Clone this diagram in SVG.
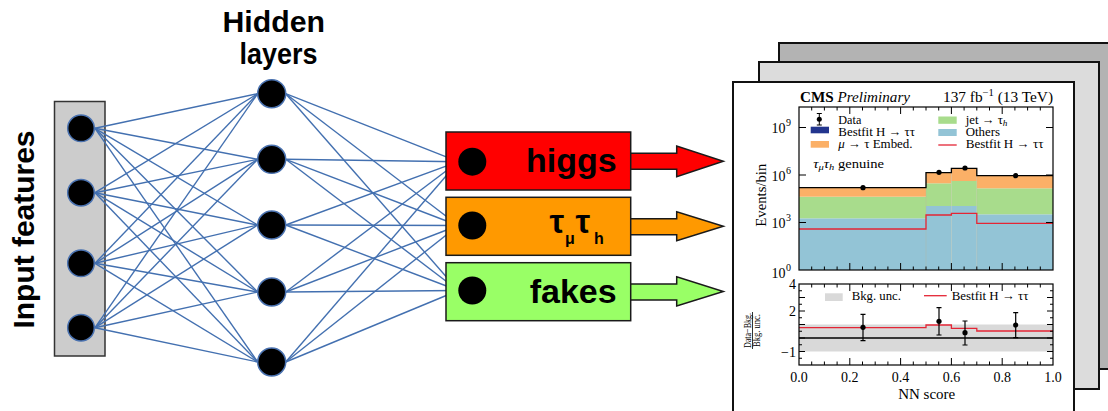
<svg xmlns="http://www.w3.org/2000/svg" width="1108" height="411" viewBox="0 0 1108 411">
<style>
.lbl{font-family:"Liberation Sans",Arial,sans-serif;font-weight:bold;fill:#000}
.pt{font-family:"Liberation Serif","DejaVu Serif",serif;fill:#000}
.node{fill:#000;stroke:#4a72b0;stroke-width:1.5}
.onode{fill:#000}
.conn line{stroke:#4370b0;stroke-width:1.4}
.box{stroke:#1a1a1a;stroke-width:1.5}
.panel{stroke:#111;stroke-width:2}
.frame{fill:none;stroke:#000;stroke-width:1.2}
.tick{fill:none;stroke:#000;stroke-width:1}
</style>
<rect width="1108" height="411" fill="#fff"/>

<!-- Left labels -->
<text class="lbl" font-size="29" transform="translate(34,328.5) rotate(-90)" textLength="198" lengthAdjust="spacingAndGlyphs">Input features</text>
<text class="lbl" font-size="29" x="222.5" y="32.3" textLength="102.5" lengthAdjust="spacingAndGlyphs">Hidden</text>
<text class="lbl" font-size="29" x="239.5" y="64.3" textLength="78" lengthAdjust="spacingAndGlyphs">layers</text>

<!-- Input layer -->
<g id="input-layer">
<rect x="54.5" y="101.5" width="50.5" height="254.5" fill="#cccccc" stroke="#333" stroke-width="1.5"/>
<circle class="node" cx="81" cy="128.3" r="13.3"/>
<circle class="node" cx="81" cy="192.7" r="13.3"/>
<circle class="node" cx="81" cy="263.3" r="13.3"/>
<circle class="node" cx="81" cy="327.7" r="13.3"/>
</g>

<!-- Connectors -->
<g id="connectors" class="conn">
<line x1="95" y1="128.3" x2="257.7" y2="93.7"/><line x1="95" y1="128.3" x2="257.7" y2="159.3"/><line x1="95" y1="128.3" x2="257.7" y2="225"/><line x1="95" y1="128.3" x2="257.7" y2="292"/><line x1="95" y1="128.3" x2="257.7" y2="362"/>
<line x1="95" y1="192.7" x2="257.7" y2="93.7"/><line x1="95" y1="192.7" x2="257.7" y2="159.3"/><line x1="95" y1="192.7" x2="257.7" y2="225"/><line x1="95" y1="192.7" x2="257.7" y2="292"/><line x1="95" y1="192.7" x2="257.7" y2="362"/>
<line x1="95" y1="263.3" x2="257.7" y2="93.7"/><line x1="95" y1="263.3" x2="257.7" y2="159.3"/><line x1="95" y1="263.3" x2="257.7" y2="225"/><line x1="95" y1="263.3" x2="257.7" y2="292"/><line x1="95" y1="263.3" x2="257.7" y2="362"/>
<line x1="95" y1="327.7" x2="257.7" y2="93.7"/><line x1="95" y1="327.7" x2="257.7" y2="159.3"/><line x1="95" y1="327.7" x2="257.7" y2="225"/><line x1="95" y1="327.7" x2="257.7" y2="292"/><line x1="95" y1="327.7" x2="257.7" y2="362"/>
<line x1="285.7" y1="93.7" x2="458.3" y2="161.7"/><line x1="285.7" y1="93.7" x2="458.3" y2="225.5"/><line x1="285.7" y1="93.7" x2="458.3" y2="290.5"/>
<line x1="285.7" y1="159.3" x2="458.3" y2="161.7"/><line x1="285.7" y1="159.3" x2="458.3" y2="225.5"/><line x1="285.7" y1="159.3" x2="458.3" y2="290.5"/>
<line x1="285.7" y1="225" x2="458.3" y2="161.7"/><line x1="285.7" y1="225" x2="458.3" y2="225.5"/><line x1="285.7" y1="225" x2="458.3" y2="290.5"/>
<line x1="285.7" y1="292" x2="458.3" y2="161.7"/><line x1="285.7" y1="292" x2="458.3" y2="225.5"/><line x1="285.7" y1="292" x2="458.3" y2="290.5"/>
<line x1="285.7" y1="362" x2="458.3" y2="161.7"/><line x1="285.7" y1="362" x2="458.3" y2="225.5"/><line x1="285.7" y1="362" x2="458.3" y2="290.5"/>
</g>

<!-- Hidden layer -->
<g id="hidden-layer">
<circle class="node" cx="271.7" cy="93.7" r="14"/>
<circle class="node" cx="271.7" cy="159.3" r="14"/>
<circle class="node" cx="271.7" cy="225" r="14"/>
<circle class="node" cx="271.7" cy="292" r="14"/>
<circle class="node" cx="271.7" cy="362" r="14"/>
</g>

<!-- Outputs -->
<g id="out-higgs">
<polygon class="box" fill="#ff0000" points="626,153.3 676.7,153.3 676.7,146 723.3,161.3 676.7,176.6 676.7,169.3 626,169.3"/>
<rect class="box" fill="#ff0000" x="446" y="132" width="184.7" height="58"/>
<circle class="onode" cx="472.3" cy="161.7" r="14"/>
<text class="lbl" font-size="34" x="616.7" y="171.7" text-anchor="end">higgs</text>
</g>
<g id="out-tautau">
<polygon class="box" fill="#ff9900" points="626,218.7 676.7,218.7 676.7,211.7 723.3,226.3 676.7,240.7 676.7,234.7 626,234.7"/>
<rect class="box" fill="#ff9900" x="446" y="197.3" width="184.7" height="58"/>
<circle class="onode" cx="472.3" cy="225.5" r="14"/>
<text class="lbl"><tspan x="549.5" y="232.5" font-size="33">τ</tspan><tspan x="565" y="243.5" font-size="16">μ</tspan><tspan x="575.5" y="232.5" font-size="33">τ</tspan><tspan x="594" y="243.5" font-size="16">h</tspan></text>
</g>
<g id="out-fakes">
<polygon class="box" fill="#99ff66" points="626,284 676.7,284 676.7,276.7 723.3,291.5 676.7,306 676.7,300 626,300"/>
<rect class="box" fill="#99ff66" x="446" y="262.7" width="184.7" height="58"/>
<circle class="onode" cx="472.3" cy="290.5" r="14"/>
<text class="lbl" font-size="34" x="616.7" y="302.7" text-anchor="end">fakes</text>
</g>

<!-- Plot panels -->
<g id="plot">
<rect class="panel" fill="#b3b3b3" x="779" y="43" width="332" height="326"/>
<rect class="panel" fill="#dcdcdc" x="759" y="62" width="340" height="327"/>
<rect class="panel" fill="#ffffff" x="733" y="82" width="341" height="332"/>

<!-- header -->
<text class="pt" x="800" y="102.3" font-size="14.5" textLength="110" lengthAdjust="spacingAndGlyphs"><tspan font-weight="bold">CMS</tspan> <tspan font-style="italic">Preliminary</tspan></text>
<text class="pt" x="943" y="102.3" font-size="14.5" textLength="110" lengthAdjust="spacingAndGlyphs">137 fb<tspan dy="-6" font-size="10">−1</tspan><tspan dy="6"> (13 TeV)</tspan></text>

<!-- upper histogram stacks -->
<rect x="799" y="218.3" width="127" height="51.7" fill="#93c4d6"/>
<rect x="799" y="196.7" width="127" height="21.6" fill="#a8dc8c"/>
<rect x="799" y="187.7" width="127" height="9" fill="#fbb067"/>
<rect x="926" y="206" width="25.4" height="64" fill="#93c4d6"/>
<rect x="926" y="183.3" width="25.4" height="22.7" fill="#a8dc8c"/>
<rect x="926" y="172.7" width="25.4" height="10.6" fill="#fbb067"/>
<rect x="951.4" y="206" width="25.4" height="64" fill="#93c4d6"/>
<rect x="951.4" y="181" width="25.4" height="25" fill="#a8dc8c"/>
<rect x="951.4" y="168.3" width="25.4" height="12.7" fill="#fbb067"/>
<rect x="976.8" y="214.3" width="76.2" height="55.7" fill="#93c4d6"/>
<rect x="976.8" y="188.3" width="76.2" height="26" fill="#a8dc8c"/>
<rect x="976.8" y="175.7" width="76.2" height="12.6" fill="#fbb067"/>
<path d="M926,172.7V270M951.4,168.3V270M976.8,168.3V270" stroke="#b9b9a0" stroke-width="0.6" opacity="0.6"/>
<path d="M799,229H926V215H951.4V213.3H976.8V223.3H1053" fill="none" stroke="#e42535" stroke-width="1.3"/>
<path d="M799,187.7H926V172.7H951.4V168.3H976.8V175.7H1053" fill="none" stroke="#000" stroke-width="1.3"/>
<g fill="#000"><circle cx="863" cy="187.7" r="2.6"/><circle cx="939" cy="172.3" r="2.6"/><circle cx="965" cy="168" r="2.6"/><circle cx="1015.7" cy="175.7" r="2.6"/></g>

<!-- upper legend -->
<path d="M819.3,113.5V125M816.8,113.5H821.8M816.8,125H821.8" stroke="#000" stroke-width="1"/>
<circle cx="819.3" cy="119.3" r="2.5" fill="#000"/>
<rect x="810.7" y="126.7" width="18.3" height="6.6" fill="#22358e"/>
<rect x="810.7" y="141" width="18.3" height="6.7" fill="#fbb067"/>
<rect x="938.3" y="116.5" width="18.4" height="7.3" fill="#a8dc8c"/>
<rect x="938.3" y="129" width="18.4" height="7" fill="#93c4d6"/>
<path d="M938.3,145H956.7" stroke="#e42535" stroke-width="1.3"/>
<g class="pt" font-size="12.5">
<text x="838.3" y="124" textLength="23" lengthAdjust="spacingAndGlyphs">Data</text>
<text x="838.3" y="136" textLength="76.7" lengthAdjust="spacingAndGlyphs">Bestfit H → ττ</text>
<text x="838.3" y="148.3" textLength="74.3" lengthAdjust="spacingAndGlyphs"><tspan font-style="italic">μ</tspan> → τ Embed.</text>
<text x="965.7" y="124" textLength="41.7" lengthAdjust="spacingAndGlyphs">jet → τ<tspan font-style="italic" font-size="9" dy="2">h</tspan></text>
<text x="965.7" y="136" textLength="34.3" lengthAdjust="spacingAndGlyphs">Others</text>
<text x="965.7" y="148.3" textLength="77.7" lengthAdjust="spacingAndGlyphs">Bestfit H → ττ</text>
<text x="813.3" y="167.7" textLength="70.7" lengthAdjust="spacingAndGlyphs" font-style="italic">τ<tspan font-size="9" dy="2">μ</tspan><tspan dy="-2">τ</tspan><tspan font-size="9" dy="2">h</tspan><tspan dy="-2" font-style="normal"> genuine</tspan></text>
</g>

<!-- upper frame and ticks -->
<rect class="frame" x="799" y="107" width="254" height="163"/>
<path class="tick" d="M811.7,270v-3.5M824.4,270v-3.5M837.1,270v-3.5M849.8,270v-7M862.5,270v-3.5M875.2,270v-3.5M887.9,270v-3.5M900.6,270v-7M913.3,270v-3.5M926,270v-3.5M938.7,270v-3.5M951.4,270v-7M964.1,270v-3.5M976.8,270v-3.5M989.5,270v-3.5M1002.2,270v-7M1014.9,270v-3.5M1027.6,270v-3.5M1040.3,270v-3.5
M811.7,107v3.5M824.4,107v3.5M837.1,107v3.5M849.8,107v7M862.5,107v3.5M875.2,107v3.5M887.9,107v3.5M900.6,107v7M913.3,107v3.5M926,107v3.5M938.7,107v3.5M951.4,107v7M964.1,107v3.5M976.8,107v3.5M989.5,107v3.5M1002.2,107v7M1014.9,107v3.5M1027.6,107v3.5M1040.3,107v3.5
M799,127.5h7M799,175h7M799,222.5h7M1053,127.5h-7M1053,175h-7M1053,222.5h-7"/>
<g class="pt" font-size="14" text-anchor="end">
<text x="785.5" y="133">10</text><text x="785.5" y="180.5">10</text><text x="785.5" y="228">10</text><text x="785.5" y="277.5">10</text>
</g>
<g class="pt" font-size="10">
<text x="786" y="126">9</text><text x="786" y="173.5">6</text><text x="786" y="221">3</text><text x="786" y="270.5">0</text>
</g>
<text class="pt" font-size="15" transform="translate(766,226.7) rotate(-90)" textLength="63" lengthAdjust="spacingAndGlyphs">Events/bin</text>

<!-- lower ratio plot -->
<rect x="799" y="324.5" width="254" height="27" fill="#d9d9d9"/>
<path d="M799,338H1053" stroke="#000" stroke-width="1.3"/>
<path d="M799,327.7H926V325H951.4V328.3H976.8V331H1053" fill="none" stroke="#e42535" stroke-width="1.3"/>
<path d="M863,314.3V340.7M860.5,314.3h5M860.5,340.7h5M939,307.7V335M936.5,307.7h5M936.5,335h5M965,321V345M962.5,321h5M962.5,345h5M1015.7,312.7V337.7M1013.2,312.7h5M1013.2,337.7h5" stroke="#000" stroke-width="1.2" fill="none"/>
<g fill="#000"><circle cx="863" cy="327.3" r="2.6"/><circle cx="939" cy="321.3" r="2.6"/><circle cx="965" cy="332.7" r="2.6"/><circle cx="1015.7" cy="325" r="2.6"/></g>
<rect x="825" y="293.3" width="17.7" height="7.7" fill="#d9d9d9"/>
<path d="M924,295.7H946.7" stroke="#e42535" stroke-width="1.3"/>
<text class="pt" font-size="12.5" x="851.7" y="300" textLength="49.3" lengthAdjust="spacingAndGlyphs">Bkg. unc.</text>
<text class="pt" font-size="12.5" x="951.7" y="300" textLength="76.7" lengthAdjust="spacingAndGlyphs">Bestfit H → ττ</text>
<rect class="frame" x="799" y="284" width="254" height="81"/>
<path class="tick" d="M811.7,365v-3.5M824.4,365v-3.5M837.1,365v-3.5M849.8,365v-7M862.5,365v-3.5M875.2,365v-3.5M887.9,365v-3.5M900.6,365v-7M913.3,365v-3.5M926,365v-3.5M938.7,365v-3.5M951.4,365v-7M964.1,365v-3.5M976.8,365v-3.5M989.5,365v-3.5M1002.2,365v-7M1014.9,365v-3.5M1027.6,365v-3.5M1040.3,365v-3.5
M811.7,284v3.5M824.4,284v3.5M837.1,284v3.5M849.8,284v7M862.5,284v3.5M875.2,284v3.5M887.9,284v3.5M900.6,284v7M913.3,284v3.5M926,284v3.5M938.7,284v3.5M951.4,284v7M964.1,284v3.5M976.8,284v3.5M989.5,284v3.5M1002.2,284v7M1014.9,284v3.5M1027.6,284v3.5M1040.3,284v3.5
M799,290.75h3M799,297.5h6M799,304.25h3M799,311h6M799,317.75h3M799,324.5h6M799,331.25h3M799,338h6M799,344.75h3M799,351.5h6M799,358.25h3
M1053,290.75h-3M1053,297.5h-6M1053,304.25h-3M1053,311h-6M1053,317.75h-3M1053,324.5h-6M1053,331.25h-3M1053,338h-6M1053,344.75h-3M1053,351.5h-6M1053,358.25h-3"/>
<g class="pt" font-size="14" text-anchor="end">
<text x="796" y="289">4</text><text x="796" y="316">2</text><text x="796" y="356.5">−1</text>
</g>
<g class="pt" font-size="14" text-anchor="middle">
<text x="799" y="382">0.0</text><text x="849.8" y="382">0.2</text><text x="900.6" y="382">0.4</text><text x="951.4" y="382">0.6</text><text x="1002.2" y="382">0.8</text><text x="1053" y="382">1.0</text>
</g>
<text class="pt" font-size="15" x="926.7" y="399" text-anchor="middle">NN score</text>
<g class="pt" font-size="10.5" text-anchor="middle">
<text transform="translate(750.5,330.5) rotate(-90)" textLength="35" lengthAdjust="spacingAndGlyphs">Data−Bkg.</text>
<text transform="translate(760,330.5) rotate(-90)" textLength="33" lengthAdjust="spacingAndGlyphs">Bkg. unc.</text>
</g>
<path d="M752.5,312V349" stroke="#000" stroke-width="0.8"/>
</g>
</svg>
